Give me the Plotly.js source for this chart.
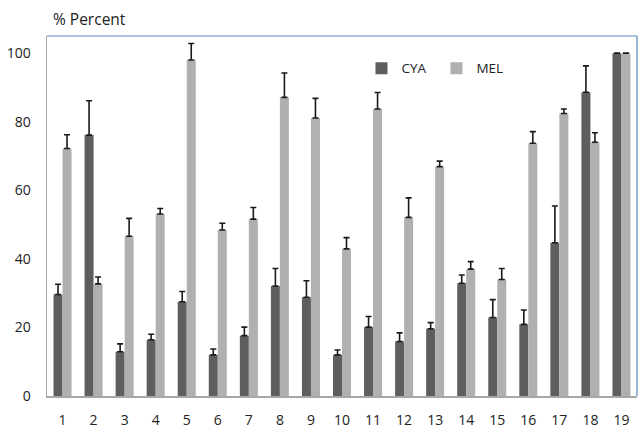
<!DOCTYPE html>
<html>
<head>
<meta charset="utf-8">
<script src="https://cdn.plot.ly/plotly-3.0.1.min.js"></script>
<style>html,body{margin:0;padding:0;background:#fff;}#chart{width:638px;height:429px;}</style>
</head>
<body>
<div id="chart"></div>
<script>
const categories = ['1','2','3','4','5','6','7','8','9','10','11','12','13','14','15','16','17','18','19'];
const cyaValues = [29.6, 76.1, 12.9, 16.4, 27.5, 12.0, 17.6, 32.1, 28.8, 12.0, 20.1, 15.9, 19.6, 32.9, 22.9, 20.9, 44.7, 88.6, 100];
const cyaErrors = [3.0, 10.0, 2.3, 1.6, 3.0, 1.7, 2.5, 5.1, 4.8, 1.4, 3.1, 2.5, 1.8, 2.4, 5.2, 4.2, 10.7, 7.7, 0];
const melValues = [72.2, 32.7, 46.6, 53.1, 98.0, 48.4, 51.6, 87.1, 81.1, 42.9, 83.7, 52.1, 66.9, 37.0, 34.0, 73.7, 82.4, 74.0, 100];
const melErrors = [4.0, 2.0, 5.2, 1.6, 4.8, 2.0, 3.4, 7.1, 5.7, 3.3, 4.8, 5.7, 1.6, 2.2, 3.2, 3.4, 1.3, 2.8, 0];
const yTicks = [0, 20, 40, 60, 80, 100];

const font = 'Open Sans, Lato, sans-serif';
function errBar(arr) {
  return {type: 'data', symmetric: false, array: arr, arrayminus: arr.map(() => 0),
          color: '#1a1a1a', thickness: 1.6, width: 3, visible: true};
}
const traces = [
  {type: 'bar', name: 'CYA', x: categories, y: cyaValues, marker: {color: '#5e5e5e'}, error_y: errBar(cyaErrors)},
  {type: 'bar', name: 'MEL', x: categories, y: melValues, marker: {color: '#b0b0b0'}, error_y: errBar(melErrors)}
];
const layout = {
  width: 638, height: 429,
  margin: {l: 47, r: 1, t: 36, b: 33},
  paper_bgcolor: '#fff', plot_bgcolor: '#fff',
  barmode: 'group', bargap: 0.42, bargroupgap: 0,
  font: {family: font, size: 14, color: '#222'},
  xaxis: {type: 'category', range: [-0.5, 18.5], showline: true, linecolor: '#a6a6a6', linewidth: 1.5,
          ticks: 'outside', ticklen: 11, tickcolor: 'rgba(0,0,0,0)', showgrid: false, zeroline: false,
          tickfont: {family: font, size: 14, color: '#222'}},
  yaxis: {range: [0, 105], tickvals: yTicks, ticktext: yTicks.map(String), showline: true, linecolor: '#a6a6a6', linewidth: 1.5,
          ticks: 'outside', ticklen: 12, tickcolor: 'rgba(0,0,0,0)', showgrid: false, zeroline: false,
          tickfont: {family: font, size: 14, color: '#222'}},
  showlegend: true,
  legend: {orientation: 'h', x: 0.533, y: 0.91, xanchor: 'left', yanchor: 'middle', bgcolor: 'rgba(0,0,0,0)',
           font: {family: font, size: 13.5, color: '#222'}, entrywidth: 30, entrywidthmode: 'pixels'},
  shapes: [
    {type: 'line', xref: 'paper', yref: 'paper', x0: 0, x1: 1, y0: 1, y1: 1, line: {color: '#5b86c5', width: 1.2}},
    {type: 'line', xref: 'paper', yref: 'paper', x0: 1, x1: 1, y0: 0, y1: 1, line: {color: '#5b86c5', width: 1.2}}
  ],
  annotations: [
    {text: '% Percent', xref: 'paper', yref: 'paper', x: 0, y: 1, xanchor: 'left', yanchor: 'bottom',
     xshift: 4, yshift: 4, showarrow: false, font: {family: font, size: 15.5, color: '#222'}}
  ]
};
Plotly.newPlot('chart', traces, layout, {displayModeBar: false, staticPlot: true});
</script>
</body>
</html>
